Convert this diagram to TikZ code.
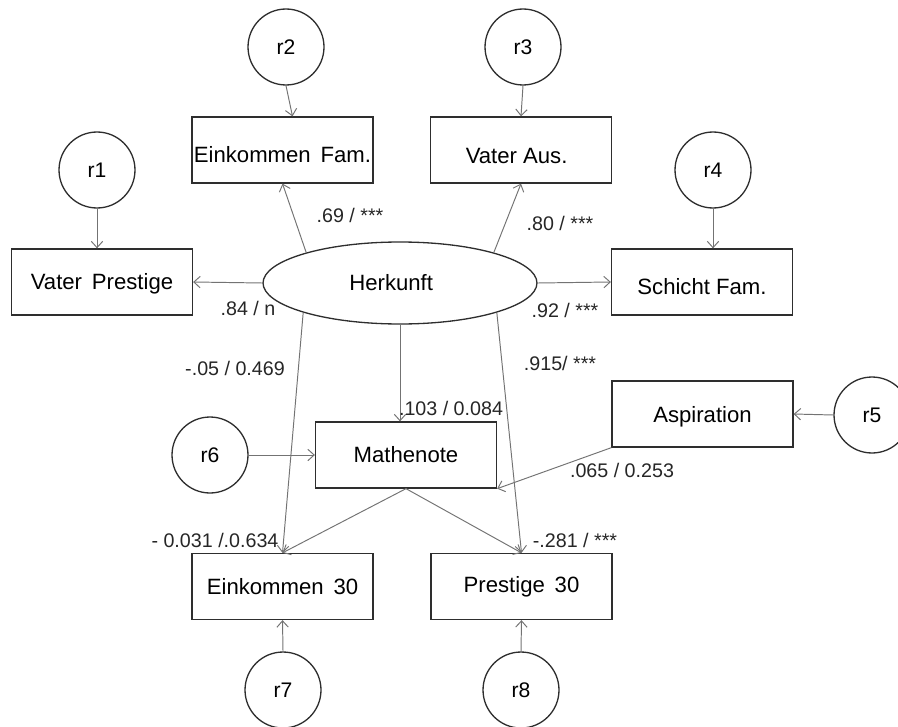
\documentclass[tikz,border=0pt]{standalone}
\usepackage{fontspec}
\setmainfont{Liberation Sans}
\usetikzlibrary{arrows.meta,shapes.geometric,calc}
\newcommand{\lowtxt}[2]{\raisebox{-#1}[\height][\depth]{#2}}
\begin{document}
\begin{tikzpicture}[x=0.02cm,y=-0.02cm,
  box/.style={draw=black!82,line width=0.75pt,rectangle,minimum width=3.62cm,minimum height=1.32cm,inner sep=0pt,font=\fontsize{12.6}{15}\selectfont},
  res/.style={draw=black!82,line width=0.75pt,circle,minimum size=1.52cm,inner sep=0pt,font=\fontsize{12}{14}\selectfont},
  lat/.style={draw=black!82,line width=0.75pt,ellipse,minimum width=5.48cm,minimum height=1.64cm,inner sep=0pt,font=\fontsize{12.6}{15}\selectfont},
  arr/.style={draw=black!55,line width=0.55pt,-{Straight Barb[length=3.6pt,width=6.5pt]}},
  lab/.style={font=\fontsize{11.2}{13}\selectfont,inner sep=0pt,text=black!85}]
\useasboundingbox (0,0) rectangle (898,726);
% latent
\node[lat] (herk) at (400,283) {\kern-10pt Herkunft};
% indicators
\node[box] (vp) at (102,282) {\lowtxt{1pt}{Vater\, Prestige}};
\node[box] (ef) at (282.5,150) {\lowtxt{2.8pt}{Einkommen\, Fam.}};
\node[box] (va) at (521,150) {\lowtxt{3.2pt}{Vater Aus.}\kern5pt};
\node[box] (sf) at (702,282) {\lowtxt{2.5pt}{Schicht Fam.}};
\node[box] (mn) at (406,455) {Mathenote};
\node[box] (asp) at (702.5,414) {\lowtxt{1.5pt}{Aspiration}};
\node[box] (e30) at (282.5,586.5) {Einkommen\, 30};
\node[box] (p30) at (521.5,586.5) {Prestige\, 30};
% residuals
\node[res] (r1) at (97,170) {r1};
\node[res] (r2) at (286,47) {r2};
\node[res] (r3) at (523,47) {r3};
\node[res] (r4) at (713,170) {r4};
\node[res] (r5) at (872,415) {r5};
\node[res] (r6) at (210,455) {r6};
\node[res] (r7) at (283,690) {r7};
\node[res] (r8) at (521,690) {r8};
% residual arrows
\draw[arr] (r1.south) -- (r1.south |- vp.north);
\draw[arr] (r2.south) -- ($(ef.north)+(10,0)$);
\draw[arr] (r3.south) -- (va.north);
\draw[arr] (r4.south) -- (r4.south |- sf.north);
\draw[arr] (r5.west) -- (asp.east);
\draw[arr] (r6.east) -- (mn.west);
\draw[arr] (r7.north) -- (e30.south);
\draw[arr] (r8.north) -- (p30.south);
% structural arrows
\draw[arr] (herk.162) -- (ef.south);
\draw[arr] (herk.18) -- (va.south);
\draw[arr] (herk.west) -- (vp.east);
\draw[arr] (herk.east) -- (sf.west);
\draw[arr] (herk.197) -- (e30.north);
\draw[arr] (herk.south) -- (herk.south |- mn.north);
\draw[arr] (herk.343) -- (p30.north);
\draw[arr] (mn.south) -- (e30.north);
\draw[arr] (mn.south) -- (p30.north);
\draw[arr] (asp.south west) -- (mn.south east);
% labels
\node[lab] (l1) at (350,215) {.69 / ***};
\node[lab] (l2) at (560,223) {.80 / ***};
\node[lab] (l3) at (248,308) {.84 / n};
\node[lab] (l4) at (565,310) {.92 / ***};
\node[lab] (l5) at (235,368) {-.05 / 0.469};
\node[lab] (l6) at (560,363) {.915/ ***};
\node[lab] (l7) at (451,408) {.103 / 0.084};
\node[lab] (l8) at (622,470) {.065 / 0.253};
\node[lab] (l9) at (215,540) {- 0.031 /.0.634};
\node[lab] (l10) at (575,540) {-.281 / ***};
\end{tikzpicture}
\end{document}
